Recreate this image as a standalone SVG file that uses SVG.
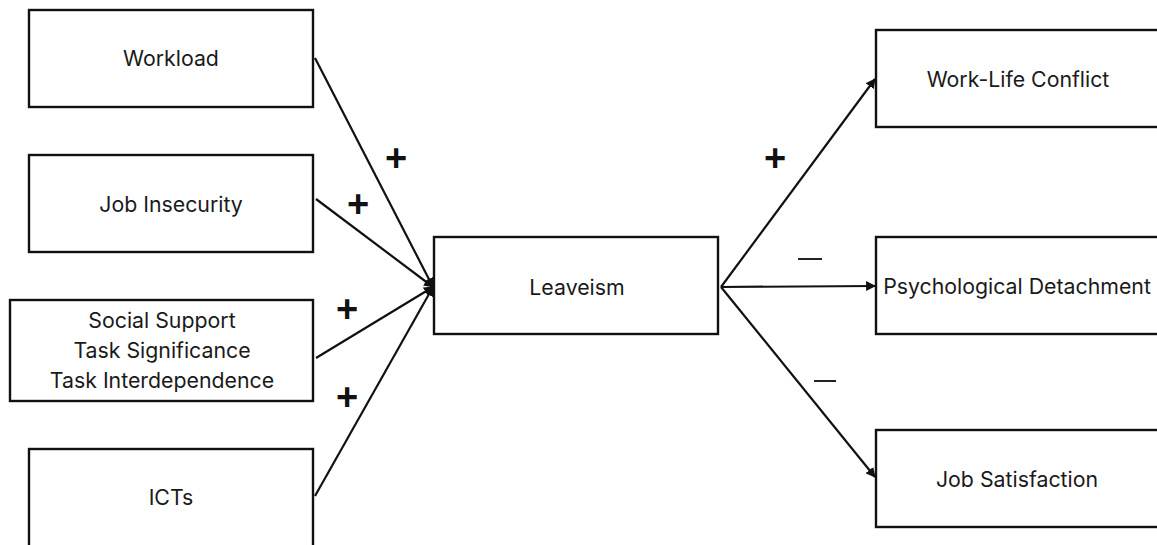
<svg xmlns="http://www.w3.org/2000/svg" width="1157" height="545" viewBox="0 0 1157 545">
  <style>
    .box { fill: #ffffff; stroke: #111111; stroke-width: 2.4; }
    .lbl { font-family: Inter, "Noto Sans", "DejaVu Sans", sans-serif; font-size: 21.3px; fill: #1a1a1a; text-anchor: middle; }
    .edge { stroke: #111111; stroke-width: 2.2; fill: none; marker-end: url(#arrow); }
    .sign { font-family: "Liberation Sans", Arial, sans-serif; font-weight: bold; font-size: 38px; fill: #111111; text-anchor: middle; }
    .dash { stroke: #222222; stroke-width: 2; }
  </style>
  <defs>
    <marker id="arrow" viewBox="0 0 10 10" refX="9" refY="5" markerWidth="4.5" markerHeight="4.5" orient="auto" markerUnits="strokeWidth">
      <path d="M0,0 L10,5 L0,10 Z" fill="#111111"/>
    </marker>
  </defs>

  <rect width="1157" height="545" fill="#ffffff"/>

  <g id="connectors">
    <line class="edge" x1="315" y1="58" x2="433" y2="287"/>
    <line class="edge" x1="316" y1="199" x2="433" y2="287"/>
    <line class="edge" x1="316" y1="358" x2="433" y2="287"/>
    <line class="edge" x1="315" y1="496" x2="433" y2="287"/>
    <line class="edge" x1="721" y1="287" x2="875" y2="79"/>
    <line class="edge" x1="721" y1="287" x2="875" y2="286"/>
    <line class="edge" x1="721" y1="287" x2="875" y2="477"/>
    <text class="sign" x="396" y="171">+</text>
    <text class="sign" x="358" y="217">+</text>
    <text class="sign" x="347" y="322">+</text>
    <text class="sign" x="347" y="410">+</text>
    <text class="sign" x="775" y="171">+</text>
    <line class="dash" x1="798" y1="259" x2="822" y2="259"/>
    <line class="dash" x1="814" y1="381" x2="836" y2="381"/>
  </g>

  <g id="workload">
    <rect class="box" x="29" y="10" width="284" height="97"/>
    <text class="lbl" x="171" y="66">Workload</text>
  </g>
  <g id="job-insecurity">
    <rect class="box" x="29" y="155" width="284" height="97"/>
    <text class="lbl" x="171" y="212">Job Insecurity</text>
  </g>
  <g id="social-task">
    <rect class="box" x="10" y="300" width="303" height="101"/>
    <text class="lbl" x="162" y="328">Social Support</text>
    <text class="lbl" x="162" y="358">Task Significance</text>
    <text class="lbl" x="162" y="388">Task Interdependence</text>
  </g>
  <g id="icts">
    <rect class="box" x="29" y="449" width="284" height="110"/>
    <text class="lbl" x="171" y="505">ICTs</text>
  </g>
  <g id="leaveism">
    <rect class="box" x="434" y="237" width="284" height="97"/>
    <text class="lbl" x="577" y="295">Leaveism</text>
  </g>
  <g id="work-life-conflict">
    <rect class="box" x="876" y="30" width="300" height="97"/>
    <text class="lbl" x="1018" y="87">Work-Life Conflict</text>
  </g>
  <g id="psychological-detachment">
    <rect class="box" x="876" y="237" width="300" height="97"/>
    <text class="lbl" x="1017" y="294">Psychological Detachment</text>
  </g>
  <g id="job-satisfaction">
    <rect class="box" x="876" y="430" width="300" height="97"/>
    <text class="lbl" x="1017" y="487">Job Satisfaction</text>
  </g>
</svg>
